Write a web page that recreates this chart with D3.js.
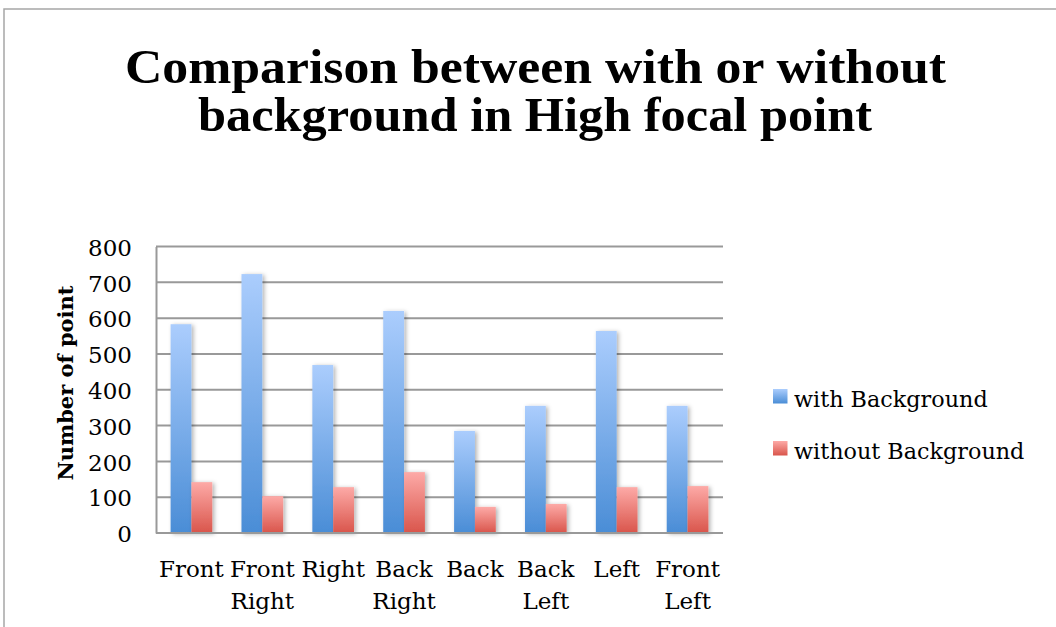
<!DOCTYPE html>
<html>
<head>
<meta charset="utf-8">
<script src="https://cdn.jsdelivr.net/npm/d3@7"></script>
<style>
  html, body { margin: 0; padding: 0; background: #fff; }
  svg { display: block; }
</style>
</head>
<body>
<svg id="chart" width="1056" height="627"></svg>
<script>
// Chart data
const categories = [["Front"], ["Front", "Right"], ["Right"], ["Back", "Right"], ["Back"], ["Back", "Left"], ["Left"], ["Front", "Left"]];
const seriesNames = ["with Background", "without Background"];
const withBackground = [583, 723, 469, 620, 285, 355, 564, 355];
const withoutBackground = [142, 103, 128, 170, 73, 81, 128, 131];
const yTicks = [0, 100, 200, 300, 400, 500, 600, 700, 800];
const titleLines = ["Comparison between with or without", "background in High focal point"];
const yTitle = "Number of point";

const W = 1056, H = 627;
const plot = { left: 156, right: 723, top: 246.5, bottom: 533 };
const serif = "'DejaVu Serif', 'Liberation Serif', serif";
const titleSerif = "'Liberation Serif', 'DejaVu Serif', serif";

const svg = d3.select("#chart");
const defs = svg.append("defs");

// vertical gradients for the two series
const grads = [
  { id: "gBlue", top: "#abcdfd", bottom: "#4a8dd6" },
  { id: "gRed", top: "#fdaaa7", bottom: "#d9554b" }
];
grads.forEach(g => {
  const lg = defs.append("linearGradient").attr("id", g.id)
    .attr("x1", 0).attr("y1", 0).attr("x2", 0).attr("y2", 1);
  lg.append("stop").attr("offset", "0%").attr("stop-color", g.top);
  lg.append("stop").attr("offset", "100%").attr("stop-color", g.bottom);
});
const shadow = defs.append("filter").attr("id", "barShadow")
  .attr("x", "-20%").attr("y", "-5%").attr("width", "160%").attr("height", "115%");
shadow.append("feDropShadow").attr("dx", 2).attr("dy", 1).attr("stdDeviation", 2)
  .attr("flood-color", "#000").attr("flood-opacity", 0.3);

// outer chart frame
svg.append("rect").attr("x", 4).attr("y", 9).attr("width", W + 20).attr("height", H + 20)
  .attr("fill", "none").attr("stroke", "#a6a6a6").attr("stroke-width", 1.5);

// title, two centred lines fitted to their widths
const titleLayout = [
  { cx: 535.5, y: 83, len: 821 },
  { cx: 535, y: 131, len: 674 }
];
svg.append("g").selectAll("text").data(titleLines).join("text")
  .attr("text-anchor", "middle")
  .attr("x", (d, i) => titleLayout[i].cx)
  .attr("y", (d, i) => titleLayout[i].y)
  .attr("textLength", (d, i) => titleLayout[i].len)
  .attr("lengthAdjust", "spacingAndGlyphs")
  .attr("font-family", titleSerif).attr("font-weight", "bold").attr("font-size", 48).attr("fill", "#000")
  .text(d => d);

// scales
const x = d3.scaleBand().domain(d3.range(categories.length)).range([plot.left, plot.right]).padding(0);
const groupFrac = 0.588;
const xs = d3.scaleBand().domain(seriesNames).range([0, x.bandwidth() * groupFrac]).padding(0);
const y = d3.scaleLinear().domain([0, 800]).range([plot.bottom, plot.top]);

// gridlines
svg.append("g").selectAll("line").data(yTicks.filter(d => d > 0)).join("line")
  .attr("x1", plot.left).attr("x2", plot.right)
  .attr("y1", d => y(d)).attr("y2", d => y(d))
  .attr("stroke", "#999").attr("stroke-width", 2);

// y axis
const yAxis = svg.append("g").attr("transform", `translate(${plot.left},0)`)
  .call(d3.axisLeft(y).tickValues(yTicks).tickSize(0).tickPadding(24));
yAxis.select(".domain").attr("stroke", "#999").attr("stroke-width", 2);
yAxis.selectAll("text").attr("font-family", serif).attr("font-size", 23).attr("fill", "#000").attr("dy", "0.38em");

// bars
const series = [withBackground, withoutBackground];
const groups = svg.append("g").selectAll("g").data(series).join("g")
  .attr("fill", (d, i) => `url(#${grads[i].id})`)
  .attr("filter", "url(#barShadow)");
groups.each(function(vals, si) {
  d3.select(this).selectAll("rect").data(vals).join("rect")
    .attr("x", (d, i) => x(i) + (x.bandwidth() * (1 - groupFrac)) / 2 + xs(seriesNames[si]))
    .attr("width", xs.bandwidth())
    .attr("y", d => y(d))
    .attr("height", d => y(0) - y(d));
});

// x axis baseline
svg.append("line").attr("x1", plot.left).attr("x2", plot.right)
  .attr("y1", plot.bottom).attr("y2", plot.bottom)
  .attr("stroke", "#999").attr("stroke-width", 2);

// x labels
const xl = svg.append("g").selectAll("text").data(categories).join("text")
  .attr("text-anchor", "middle").attr("font-family", serif).attr("font-size", 23).attr("fill", "#000");
xl.each(function(lines, i) {
  const t = d3.select(this);
  lines.forEach((s, j) => {
    t.append("tspan").attr("x", x(i) + x.bandwidth() / 2).attr("y", 577 + j * 31.5).text(s);
  });
});

// y title
svg.append("text").attr("transform", "translate(73,383) rotate(-90)")
  .attr("text-anchor", "middle").attr("font-family", serif).attr("font-weight", "bold")
  .attr("font-size", 21).attr("fill", "#000").text(yTitle);

// legend
const legend = svg.append("g").selectAll("g").data(seriesNames).join("g")
  .attr("transform", (d, i) => `translate(773,${389 + i * 52})`);
legend.append("rect").attr("width", 14.5).attr("height", 14.5)
  .attr("fill", (d, i) => `url(#${grads[i].id})`);
legend.append("text").attr("x", 21).attr("y", 18)
  .attr("font-family", serif).attr("font-size", 22.3).attr("fill", "#000").text(d => d);
</script>
</body>
</html>
